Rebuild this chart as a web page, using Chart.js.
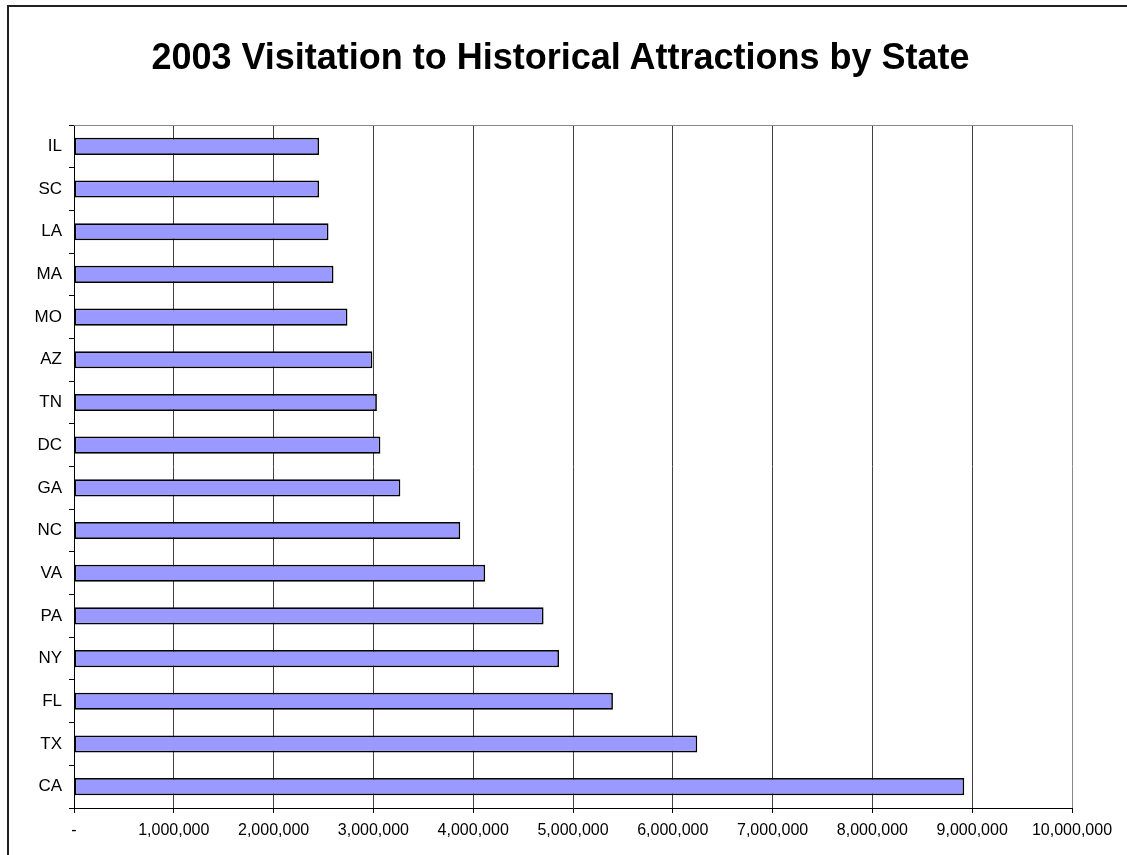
<!DOCTYPE html>
<html lang="en">
<head>
  <meta charset="UTF-8">
  <title>2003 Visitation to Historical Attractions by State</title>
  <script src="https://cdn.jsdelivr.net/npm/chart.js"></script>
  <style>
    body {
      margin: 0;
      padding: 0;
      background: #fff;
    }

    .wrap {
      position: relative;
      width: 1127px;
      height: 855px;
    }

    /* outer chart frame, only top and left edges are visible */
    .frame {
      position: absolute;
      left: 7px;
      top: 5px;
      right: -10px;
      bottom: -10px;
      border-top: 2px solid #222;
      border-left: 2px solid #222;
      pointer-events: none;
    }

    .chart-title {
      position: absolute;
      left: 0;
      width: 1121px;
      top: 35px;
      margin: 0;
      text-align: center;
      font-family: 'Liberation Sans', Arial, sans-serif;
      font-size: 36px;
      font-weight: bold;
      line-height: 43px;
      color: #000;
    }
  </style>
</head>
<body>
  <div class="wrap">
    <canvas id="visitChart" width="1127" height="855"></canvas>
    <h1 class="chart-title">2003 Visitation to Historical Attractions by State</h1>
    <div class="frame"></div>
  </div>

  <script>
    // States, top to bottom as shown
    const states = ["IL", "SC", "LA", "MA", "MO", "AZ", "TN", "DC", "GA", "NC", "VA", "PA", "NY", "FL", "TX", "CA"];

    // Visitors in 2003
    const visitors = [2456000, 2456000, 2550000, 2600000, 2740000, 2990000, 3035000, 3070000,
                      3270000, 3870000, 4120000, 4705000, 4860000, 5400000, 6245000, 8920000];

    // Axis range
    const xMin = 0;
    const xMax = 10000000;
    const xStep = 1000000;

    const fontFamily = "'Liberation Sans', Arial, sans-serif";

    // Gray frame line along the top of the plot area
    const plotTopLine = {
      id: "plotTopLine",
      afterDraw(chart) {
        const { ctx, chartArea } = chart;
        ctx.save();
        ctx.strokeStyle = "#888";
        ctx.lineWidth = 1;
        ctx.beginPath();
        ctx.moveTo(chartArea.left, chartArea.top + 0.5);
        ctx.lineTo(chartArea.right, chartArea.top + 0.5);
        ctx.stroke();
        ctx.restore();
      }
    };

    const visitChart = new Chart(document.getElementById("visitChart"), {
      type: "bar",
      data: {
        labels: states,
        datasets: [{
          label: "Visitors",
          data: visitors,
          backgroundColor: "#9999FF",
          borderColor: "#000",
          borderWidth: 1.7,
          borderSkipped: false,
          barPercentage: 0.4,
          categoryPercentage: 1.0
        }]
      },
      options: {
        indexAxis: "y",
        responsive: false,
        animation: false,
        layout: {
          // top padding leaves room for the title above the plot
          padding: { left: 9, right: 55, top: 125, bottom: 0 }
        },
        plugins: {
          legend: { display: false },
          tooltip: { enabled: false },
          title: { display: false }
        },
        scales: {
          x: {
            min: xMin,
            max: xMax,
            afterFit(scale) { scale.height = 47; },
            border: { color: "#000", width: 1 },
            grid: {
              color: (c) => (c.tick && c.tick.value === xMax ? "#888" : "#404040"),
              tickColor: "#000",
              tickLength: 5,
              lineWidth: 1
            },
            ticks: {
              stepSize: xStep,
              color: "#000",
              padding: 8,
              maxRotation: 0,
              font: { family: fontFamily, size: 16 },
              callback: (v) => (v === 0 ? "-" : v.toLocaleString("en-US"))
            }
          },
          y: {
            afterFit(scale) { scale.width = 65; },
            border: { color: "#000", width: 1 },
            grid: {
              drawOnChartArea: false,
              tickColor: "#000",
              tickLength: 5
            },
            ticks: {
              color: "#000",
              padding: 7,
              font: { family: fontFamily, size: 17 }
            }
          }
        }
      },
      plugins: [plotTopLine]
    });
  </script>
</body>
</html>
